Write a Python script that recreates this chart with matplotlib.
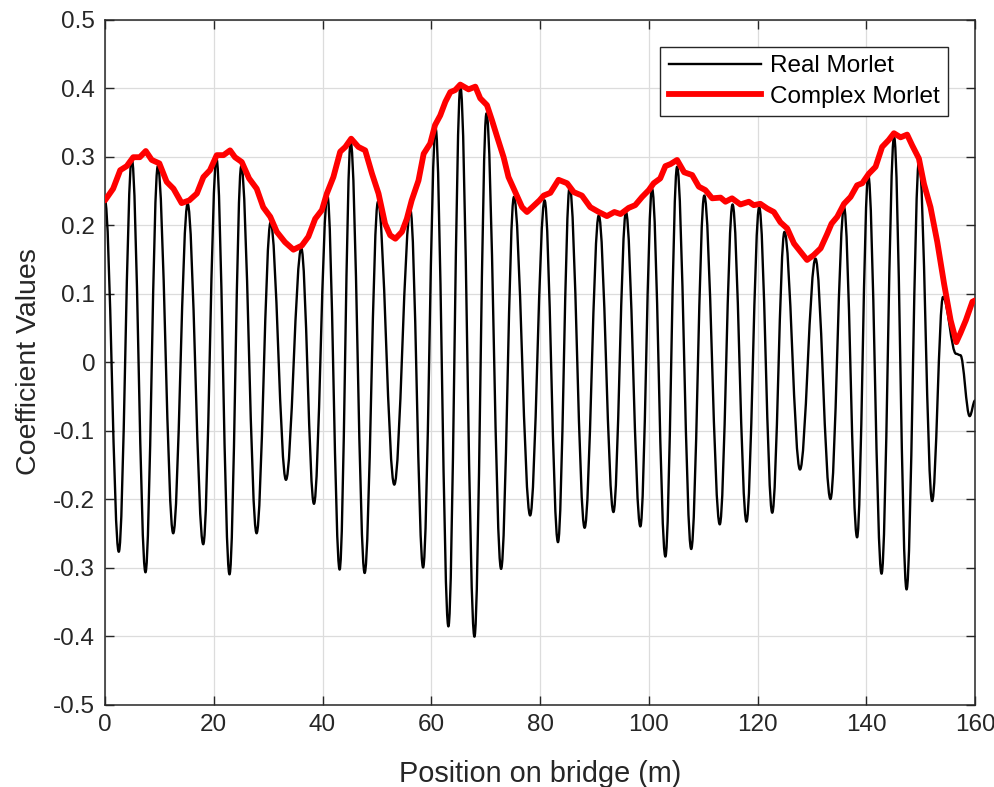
import matplotlib
matplotlib.use("Agg")
import matplotlib.pyplot as plt
from matplotlib.path import Path
from matplotlib.patches import PathPatch
from matplotlib.lines import Line2D
from matplotlib.ticker import FuncFormatter

plt.rcParams['font.family'] = ['Liberation Sans', 'DejaVu Sans']
plt.rcParams['axes.unicode_minus'] = False

# Real Morlet: peaks and troughs (position m, value)
real_x = [0, 2.54, 4.93, 7.45, 9.72, 12.55, 15.2, 18.07, 20.5, 22.9,
          25.06, 27.88, 30.46, 33.28, 36.1, 38.43, 40.9, 43.15, 45.18, 47.75,
          50.2, 53.2, 56.16, 58.5, 60.8, 63.15, 65.36, 67.94, 70.15, 72.84,
          75.2, 78.18, 80.84, 83.3, 85.45, 88.2, 90.8, 93.5, 95.8, 98.45,
          100.6, 103.05, 105.2, 107.8, 110.2, 113.05, 115.4, 117.96, 120.3, 122.7,
          124.95, 127.8, 130.65, 133.4, 135.9, 138.3, 140.35, 142.8, 145.1, 147.4,
          149.7, 152.1, 154.1, 156.5, 157.3, 159.0, 160]
real_y = [0.236, -0.277, 0.297, -0.307, 0.286, -0.25, 0.231, -0.266, 0.297, -0.31,
          0.286, -0.25, 0.204, -0.172, 0.166, -0.207, 0.243, -0.303, 0.321, -0.308,
          0.234, -0.179, 0.222, -0.300, 0.341, -0.386, 0.402, -0.401, 0.363, -0.302,
          0.241, -0.224, 0.236, -0.263, 0.256, -0.242, 0.214, -0.219, 0.219, -0.240,
          0.253, -0.284, 0.285, -0.273, 0.243, -0.237, 0.230, -0.233, 0.226, -0.220,
          0.190, -0.157, 0.151, -0.200, 0.226, -0.256, 0.273, -0.309, 0.329, -0.332,
          0.295, -0.203, 0.095, 0.012, 0.010, -0.079, -0.056]

# Complex Morlet (modulus)
cplx_x = [0, 1.5, 2.8, 4.0, 5.2, 6.4, 7.5, 8.6, 10.0, 11.35,
          12.6, 14.1, 15.5, 16.9, 18.1, 19.3, 20.55, 21.8, 23.0, 23.9,
          25.15, 26.5, 27.9, 29.1, 30.4, 31.6, 33.1, 34.65, 36.2, 37.4,
          38.65, 39.9, 40.8, 42.0, 43.25, 44.2, 45.27, 46.6, 47.85, 49.1,
          50.3, 51.5, 52.45, 53.4, 54.6, 55.5, 56.4, 57.65, 58.6, 59.8,
          60.7, 61.65, 62.6, 63.5, 64.4, 65.33, 66.86, 68.1, 69.0, 70.24,
          71.16, 72.1, 73.3, 74.2, 75.45, 76.7, 77.6, 78.7, 79.9, 80.67,
          81.9, 83.4, 84.97, 86.2, 87.7, 89.25, 90.8, 92.3, 93.67, 94.8,
          96.3, 97.5, 98.77, 100.0, 100.9, 102.1, 103.05, 104.0, 105.2, 106.5,
          107.97, 109.2, 110.4, 111.65, 113.2, 114.1, 115.3, 116.85, 118.4, 119.3,
          120.5, 121.8, 123.0, 124.2, 125.45, 126.7, 127.9, 129.1, 130.3, 131.6,
          132.8, 133.6, 134.65, 135.9, 137.1, 138.3, 139.25, 140.47, 141.7, 142.9,
          144.1, 145.07, 146.3, 147.5, 148.45, 149.67, 150.6, 151.8, 153.05, 154.3,
          155.5, 156.55, 157.3, 158.3, 159.5, 160]
cplx_y = [0.236, 0.253, 0.280, 0.286, 0.299, 0.299, 0.308, 0.295, 0.290, 0.263,
          0.253, 0.232, 0.236, 0.246, 0.270, 0.280, 0.302, 0.302, 0.309, 0.299,
          0.292, 0.268, 0.253, 0.226, 0.212, 0.190, 0.175, 0.164, 0.170, 0.183,
          0.209, 0.222, 0.246, 0.270, 0.307, 0.314, 0.326, 0.314, 0.309, 0.275,
          0.246, 0.202, 0.185, 0.180, 0.190, 0.209, 0.236, 0.265, 0.304, 0.319,
          0.346, 0.360, 0.380, 0.394, 0.397, 0.405, 0.398, 0.402, 0.385, 0.375,
          0.353, 0.329, 0.299, 0.270, 0.248, 0.226, 0.219, 0.227, 0.236, 0.243,
          0.247, 0.266, 0.261, 0.248, 0.243, 0.226, 0.219, 0.213, 0.219, 0.216,
          0.225, 0.229, 0.241, 0.251, 0.261, 0.268, 0.286, 0.289, 0.295, 0.277,
          0.273, 0.256, 0.251, 0.239, 0.240, 0.234, 0.239, 0.230, 0.234, 0.229,
          0.231, 0.224, 0.219, 0.204, 0.195, 0.173, 0.161, 0.149, 0.156, 0.166,
          0.187, 0.202, 0.212, 0.231, 0.241, 0.258, 0.261, 0.275, 0.285, 0.314,
          0.324, 0.334, 0.328, 0.332, 0.316, 0.297, 0.260, 0.226, 0.175, 0.114,
          0.061, 0.029, 0.042, 0.061, 0.088, 0.090]

xticks = [0, 20, 40, 60, 80, 100, 120, 140, 160]
yticks = [-0.5, -0.4, -0.3, -0.2, -0.1, 0, 0.1, 0.2, 0.3, 0.4, 0.5]

fig = plt.figure(figsize=(9.95, 7.87), dpi=100)
ax = fig.add_axes([0.1055, 0.1048, 0.8745, 0.8704])

# real part: smooth bezier segments between the read extrema (flat at each turn)
k = 0.36
verts = [(real_x[0], real_y[0])]
codes = [Path.MOVETO]
for i in range(1, len(real_x)):
    x0, y0 = real_x[i - 1], real_y[i - 1]
    x1, y1 = real_x[i], real_y[i]
    dx = x1 - x0
    verts += [(x0 + k * dx, y0), (x1 - k * dx, y1), (x1, y1)]
    codes += [Path.CURVE4] * 3
ax.add_patch(PathPatch(Path(verts, codes), facecolor='none', edgecolor='black',
                       lw=1.7, joinstyle='round', zorder=2))

ax.plot(cplx_x, cplx_y, color='red', lw=4.2, solid_joinstyle='round',
        solid_capstyle='round', zorder=3)

ax.set_xlim(0, 160)
ax.set_ylim(-0.5, 0.5)
ax.set_xticks(xticks)
ax.set_yticks(yticks)
ax.yaxis.set_major_formatter(FuncFormatter(lambda v, p: '%g' % round(v, 2)))

ax.grid(True, color='#dcdcdc', lw=0.9)
ax.set_axisbelow(True)
for s in ax.spines.values():
    s.set_color('#262626')
    s.set_linewidth(1.1)
ax.tick_params(direction='in', length=6.5, width=1.0, color='#262626',
               labelsize=17.5, labelcolor='#262626', top=True, right=True, pad=7)

ax.set_xlabel('Position on bridge (m)', fontsize=20.8, color='#262626', labelpad=17)
ax.set_ylabel('Coefficient Values', fontsize=20.5, color='#262626', labelpad=8)

handles = [Line2D([], [], color='black', lw=1.7),
           Line2D([], [], color='red', lw=4.2)]
leg = ax.legend(handles, ['Real Morlet', 'Complex Morlet'], loc='upper right',
                bbox_to_anchor=(0.969, 0.96), borderaxespad=0, fontsize=17.5,
                handlelength=3.8, handletextpad=0.35, fancybox=False, framealpha=1,
                edgecolor='#262626', borderpad=0.35, labelspacing=0.35)
leg.get_frame().set_linewidth(1.0)

fig.savefig('out.png', dpi=100)
